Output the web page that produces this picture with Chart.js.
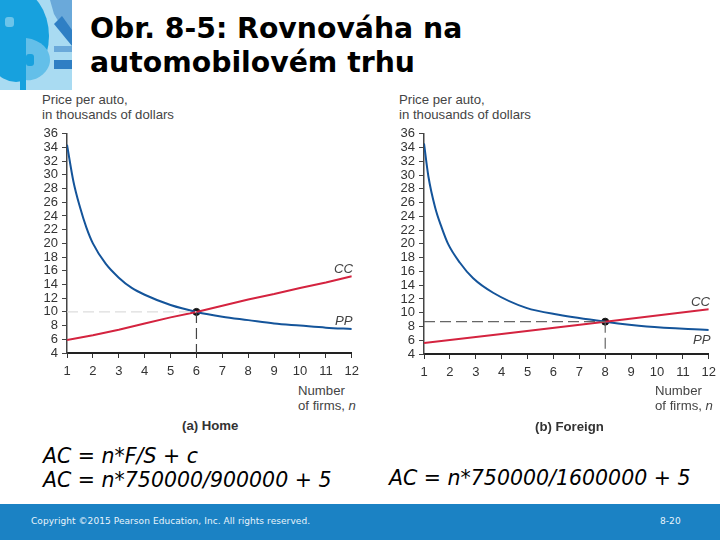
<!DOCTYPE html>
<html>
<head>
<meta charset="utf-8">
<script src="https://cdn.jsdelivr.net/npm/chart.js@4"></script>
<style>
  html, body { margin: 0; padding: 0; background: #fff; }
  #page { position: relative; width: 720px; height: 540px; overflow: hidden; }
  canvas { position: absolute; }
  .txt { position: absolute; white-space: pre; }
  .title { font: bold 28.3px/34px "DejaVu Sans"; color: #000; left: 90px; top: 12px; }
  .lab { font: 13.2px/15px "Liberation Sans"; color: #444; }
  .cap { font: bold 13.2px/15px "Liberation Sans"; color: #333; }
  .formula { font: italic 20.5px/24px "DejaVu Sans"; color: #000; }
  #footer { position: absolute; left: 0; top: 504px; width: 720px; height: 36px; background: #1b82c4; }
  .foot { font: 9px/12px "DejaVu Sans"; color: #e8f4fb; letter-spacing: 0.07px; top: 515px; }
</style>
</head>
<body>
<div id="page">
  <svg style="position:absolute;left:0;top:0" width="72" height="90" viewBox="0 0 72 90">
    <rect width="72" height="90" fill="#a9dbf2"/>
    <path d="M50 0 L72 0 L72 44 L54 14 Z" fill="#6aa9da"/>
    <path d="M54 24 L72 46 L72 30 L62 16 Z" fill="#2f7fc4"/>
    <rect x="54" y="46" width="18" height="6" fill="#6aa9da"/>
    <rect x="54" y="60" width="18" height="9" fill="#2f7fc4"/>
    <ellipse cx="16" cy="36" rx="33" ry="46" fill="#17a1de"/>
    <path d="M26 38 C42 40 50 50 50 60 C50 72 36 82 26 80 Z" fill="#63bfe9"/>
    <rect x="5" y="17" width="9" height="10" rx="3" fill="#6cc4ea"/>
    <rect x="26" y="54" width="8" height="12" rx="3" fill="#17a1de"/>
    <rect x="20" y="0" width="6" height="90" fill="#17a1de"/>
  </svg>

  <div class="txt title">Obr. 8-5: Rovnováha na
automobilovém trhu</div>

  <div class="txt lab" style="left:42px;top:92px">Price per auto,
in thousands of dollars</div>
  <div class="txt lab" style="left:399px;top:92px">Price per auto,
in thousands of dollars</div>

  <canvas id="chartHome"></canvas>
  <canvas id="chartForeign"></canvas>

  <div class="txt lab" style="left:298px;top:383px">Number
of firms, <i>n</i></div>
  <div class="txt lab" style="left:655px;top:383px">Number
of firms, <i>n</i></div>
  <div class="txt cap" style="left:182px;top:418px">(a) Home</div>
  <div class="txt cap" style="left:535px;top:419px">(b) Foreign</div>

  <div class="txt lab" style="left:334px;top:261px;font-style:italic">CC</div>
  <div class="txt lab" style="left:335px;top:313px;font-style:italic">PP</div>
  <div class="txt lab" style="left:691px;top:294px;font-style:italic">CC</div>
  <div class="txt lab" style="left:693px;top:332px;font-style:italic">PP</div>

  <div class="txt formula" style="left:43px;top:444px">AC = n*F/S + c
AC = n*750000/900000 + 5</div>
  <div class="txt formula" style="left:389px;top:466px">AC = n*750000/1600000 + 5</div>

  <div id="footer"></div>
  <div class="txt foot" style="left:31px">Copyright ©2015 Pearson Education, Inc. All rights reserved.</div>
  <div class="txt foot" style="left:660px">8-20</div>
</div>

<script>
var yTicks = [4,6,8,10,12,14,16,18,20,22,24,26,28,30,32,34,36];
var xTicks = [1,2,3,4,5,6,7,8,9,10,11,12];

var ppHomeN = [1,1.25,1.5,1.75,2,2.5,3,3.5,4,5,6,7,8,9,10,11,12];
var ppHomeP = [34.4,29,25.3,22.3,20,17,15,13.5,12.5,11,10,9.3,8.8,8.3,8,7.7,7.5];
var ccHomeN = [1,2,3,4,5,6,7,8,9,10,11,12];
var ccHomeP = [5.9,6.6,7.4,8.3,9.2,10,10.9,11.8,12.6,13.5,14.3,15.2];

var ppForeignN = [1,1.17,1.43,1.68,1.93,2.38,2.9,3.67,4.95,6.2,8,9.6,12];
var ppForeignP = [34.6,29.8,25.3,22.4,20,17.3,15,12.9,10.7,9.7,8.7,8,7.5];
var ccForeignN = [1,4,8,12];
var ccForeignP = [5.6,6.9,8.7,10.5];

var eqHomeN = 6, eqHomeP = 10;
var eqForeignN = 8, eqForeignP = 8.7;

function pts (xs, ys) {
    return xs.map(function (x, i) { return {x: x, y: ys[i]}; });
}

function kresli (id, left, ppN, ppP, ccN, ccP, eqN, eqP, hColor, vColor) {
    var canvas = document.getElementById(id);
    canvas.style.left = left + 'px';
    canvas.style.top = '122px';
    new Chart(canvas.getContext('2d'), {
        type: 'scatter',
        data: {
            datasets: [
                {data: pts([1, eqN], [eqP, eqP]), showLine: true, borderColor: hColor, borderWidth: 1.2, borderDash: [11, 5], pointRadius: 0},
                {data: pts([eqN, eqN], [eqP, 4]), showLine: true, borderColor: vColor, borderWidth: 1.2, borderDash: [11, 5], pointRadius: 0},
                {data: pts(ccN, ccP), showLine: true, borderColor: '#d4233f', borderWidth: 2, pointRadius: 0},
                {data: pts(ppN, ppP), showLine: true, borderColor: '#14549a', borderWidth: 2, pointRadius: 0, cubicInterpolationMode: 'monotone'},
                {data: pts([eqN], [eqP]), pointRadius: 3.5, backgroundColor: '#111', borderColor: '#111'}
            ]
        },
        options: {
            responsive: false,
            animation: false,
            layout: {padding: {top: 10, right: 13, left: 0, bottom: 0}},
            plugins: {legend: {display: false}, tooltip: {enabled: false}},
            scales: {
                x: {
                    type: 'linear', min: 1, max: 12,
                    afterBuildTicks: function (s) { s.ticks = xTicks.map(function (v) { return {value: v}; }); },
                    afterFit: function (s) { s.height = 30; },
                    grid: {drawOnChartArea: false, drawTicks: true, tickLength: 5, tickColor: '#333'},
                    border: {color: '#222', width: 2},
                    ticks: {color: '#333', font: {family: 'Liberation Sans', size: 13}, padding: 6, maxRotation: 0, autoSkip: false}
                },
                y: {
                    min: 4, max: 36,
                    afterBuildTicks: function (s) { s.ticks = yTicks.map(function (v) { return {value: v}; }); },
                    afterFit: function (s) { s.width = 37; },
                    grid: {drawOnChartArea: false, drawTicks: true, tickLength: 5, tickColor: '#444'},
                    border: {color: '#444', width: 1.5},
                    ticks: {color: '#333', font: {family: 'Liberation Sans', size: 13}, padding: 4, autoSkip: false}
                }
            }
        }
    });
}

var homeCanvas = document.getElementById('chartHome');
homeCanvas.width = 335; homeCanvas.height = 261;
var foreignCanvas = document.getElementById('chartForeign');
foreignCanvas.width = 335; foreignCanvas.height = 262;

kresli('chartHome', 30, ppHomeN, ppHomeP, ccHomeN, ccHomeP, eqHomeN, eqHomeP, '#dddddd', '#444444');
kresli('chartForeign', 387, ppForeignN, ppForeignP, ccForeignN, ccForeignP, eqForeignN, eqForeignP, '#666666', '#666666');
</script>
</body>
</html>
